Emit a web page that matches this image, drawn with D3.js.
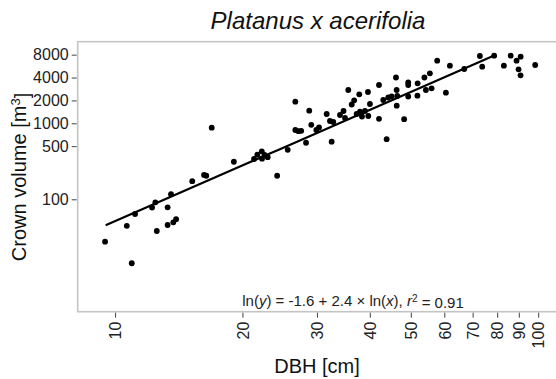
<!DOCTYPE html>
<html>
<head>
<meta charset="utf-8">
<script src="https://cdn.jsdelivr.net/npm/d3@7"></script>
<style>
  body { margin: 0; background: #fff; }
  svg text { font-family: "Liberation Sans", Arial, sans-serif; }
</style>
</head>
<body>
<script>
'use strict';

// diameter at breast height [cm]
const dbh = [9.47, 10.66, 10.95, 11.15, 12.23, 12.45, 12.55, 13.31, 13.31, 13.56,
  13.73, 13.94, 15.22, 16.23, 16.43, 16.92, 19.09, 21.30, 21.69, 22.22,
  22.25, 22.95, 22.56, 24.16, 25.59, 26.67, 26.67, 27.14, 27.54, 28.27,
  28.77, 29.09, 29.90, 30.34, 31.63, 32.50, 32.20, 32.79, 34.01, 34.67,
  34.95, 35.58, 36.25, 36.74, 37.77, 37.24, 37.92, 38.33, 38.96, 39.67,
  39.60, 40.03, 42.05, 42.05, 43.04, 44.23, 45.05, 43.84, 46.12, 46.29,
  46.45, 46.31, 48.22, 49.30, 49.30, 49.30, 51.89, 51.83, 53.84, 55.47,
  54.28, 55.99, 57.72, 60.52, 61.85, 66.87, 72.82, 73.74, 78.70, 82.97,
  86.10, 88.90, 90.91, 89.87, 90.86, 98.38];

// crown volume [m3]
const crownVolume = [27.7, 44.8, 14.4, 64.1, 78.0, 91.3, 38.3, 78.5, 45.9, 116.7,
  49.8, 54.7, 173, 209, 204, 875, 312, 339, 386, 428,
  342, 358, 383, 204, 448, 1924, 816, 787, 796, 555,
  1465, 955, 816, 880, 1326, 573, 1072, 1040, 1286, 1451,
  1174, 2743, 1768, 2007, 2407, 1326, 1421, 1229, 1451, 1248,
  2581, 1794, 3190, 1146, 2026, 2186, 2267, 618, 4005, 2743,
  2287, 1704, 1132, 3463, 3190, 2253, 3360, 2308, 4005, 4549,
  2743, 2888, 6664, 2527, 5727, 5183, 7683, 5553, 7754, 5727,
  7754, 6664, 7522, 5136, 4282, 5851];

const xTicks = [10, 20, 30, 40, 50, 60, 70, 80, 90, 100];
const yTicks = [100, 500, 1000, 2000, 4000, 8000];

// fitted line ln(y) = b0 + b1 ln(x)
const fitCoef = [-1.65, 2.43];
const fitRange = [9.5, 78.7];

const width = 556, height = 379;
const panel = { left: 77.7, right: 559, top: 41.7, bottom: 311.7 };

const svg = d3.select('body').append('svg')
  .attr('width', width)
  .attr('height', height);

const xScale = d3.scaleLog()
  .domain([8.16, 112])
  .range([panel.left, panel.right]);

const yScale = d3.scaleLog()
  .domain([3.32, 11850])
  .range([panel.bottom, panel.top]);

// title
svg.append('text')
  .attr('x', 318)
  .attr('y', 29)
  .attr('text-anchor', 'middle')
  .style('font-size', '24px')
  .style('font-style', 'italic')
  .attr('fill', '#111')
  .text('Platanus x acerifolia');

// panel border
svg.append('rect')
  .attr('x', panel.left)
  .attr('y', panel.top)
  .attr('width', panel.right - panel.left)
  .attr('height', panel.bottom - panel.top)
  .attr('fill', 'none')
  .attr('stroke', '#c4c4c4')
  .attr('stroke-width', 1.6);

// y axis
const yAxis = svg.append('g')
  .attr('transform', `translate(${panel.left - 1}, 0)`)
  .call(d3.axisLeft(yScale).tickValues(yTicks).tickFormat(d3.format('d')).tickSize(5).tickPadding(3));
yAxis.select('.domain').remove();
yAxis.selectAll('line').attr('stroke', '#444').attr('stroke-width', 1);
yAxis.selectAll('text').style('font-size', '16px').attr('fill', '#222');

// x axis
const xAxis = svg.append('g')
  .attr('transform', `translate(0, ${panel.bottom + 1})`)
  .call(d3.axisBottom(xScale).tickValues(xTicks).tickFormat(d3.format('d')).tickSize(5).tickPadding(3));
xAxis.select('.domain').remove();
xAxis.selectAll('line').attr('stroke', '#444').attr('stroke-width', 1);
xAxis.selectAll('text')
  .style('font-size', '16px')
  .attr('fill', '#222')
  .attr('transform', 'rotate(-90)')
  .attr('x', -9)
  .attr('y', 0)
  .attr('dy', '0.36em')
  .attr('text-anchor', 'end');

// axis titles
svg.append('text')
  .attr('x', 317)
  .attr('y', 373)
  .attr('text-anchor', 'middle')
  .style('font-size', '20px')
  .attr('fill', '#111')
  .text('DBH [cm]');

const yLab = svg.append('text')
  .attr('transform', 'translate(26, 177)rotate(-90)')
  .attr('text-anchor', 'middle')
  .style('font-size', '20px')
  .attr('fill', '#111');
yLab.append('tspan').text('Crown volume [m');
yLab.append('tspan').attr('dy', '-0.45em').style('font-size', '13px').text('3');
yLab.append('tspan').attr('dy', '0.45em').text(']');

// regression line
const lineX = d3.range(0, 21).map(i => Math.exp(Math.log(fitRange[0]) + i / 20 * (Math.log(fitRange[1]) - Math.log(fitRange[0]))));
const line = d3.line()
  .x(d => xScale(d))
  .y(d => yScale(Math.exp(fitCoef[0] + fitCoef[1] * Math.log(d))));
svg.append('path')
  .datum(lineX)
  .attr('d', line)
  .attr('fill', 'none')
  .attr('stroke', '#000')
  .attr('stroke-width', 2.2);

// points
svg.selectAll('.dot')
  .data(dbh.map((d, i) => [d, crownVolume[i]]))
  .enter()
  .append('circle')
  .attr('class', 'dot')
  .attr('cx', d => xScale(d[0]))
  .attr('cy', d => yScale(d[1]))
  .attr('r', 2.9)
  .attr('fill', '#000');

// equation
const eq = svg.append('text')
  .attr('x', 353)
  .attr('y', 306)
  .attr('text-anchor', 'middle')
  .style('font-size', '15px')
  .attr('fill', '#222');
eq.append('tspan').text('ln(');
eq.append('tspan').style('font-style', 'italic').text('y');
eq.append('tspan').text(') = -1.6 + 2.4 \u00d7 ln(');
eq.append('tspan').style('font-style', 'italic').text('x');
eq.append('tspan').text('),  ');
eq.append('tspan').style('font-style', 'italic').text('r');
eq.append('tspan').attr('dy', '-0.45em').style('font-size', '10px').text('2');
eq.append('tspan').attr('dy', '0.45em').text(' = 0.91');
</script>
</body>
</html>
